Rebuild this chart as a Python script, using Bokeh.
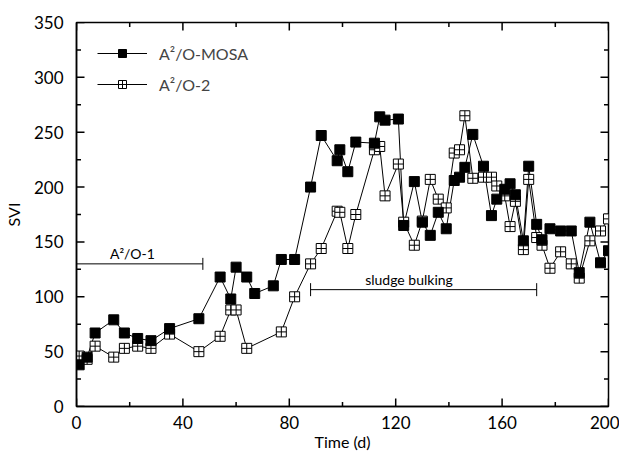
import numpy as np
from bokeh.plotting import figure
from bokeh.models import (SingleIntervalTicker, Range1d, Legend, LegendItem,
                          Arrow, TeeHead, Label, ColumnDataSource)
from bokeh.embed import file_html
from bokeh.resources import INLINE

# ---- data ----
days_mosa = [1, 4, 7, 14, 18, 23, 28, 35, 46, 54, 58, 60, 64, 67, 74, 77, 82, 88, 92, 98,
             99, 102, 105, 112, 114, 116, 121, 123, 127, 130, 133, 136, 139, 142, 144, 146, 149, 153, 156, 158,
             161, 163, 165, 168, 170, 173, 175, 178, 182, 186, 189, 193, 197, 200]
svi_mosa = [38, 45, 67, 79, 67, 62, 60, 71, 80, 118, 98, 127, 118, 103, 110, 134, 134, 200, 247, 224,
            234, 214, 241, 240, 264, 261, 262, 165, 205, 168, 156, 177, 162, 206, 209, 218, 248, 219, 174, 189,
            198, 203, 193, 151, 219, 166, 152, 162, 160, 160, 122, 168, 131, 142]

days_a2o2 = [1, 4, 7, 14, 18, 23, 28, 35, 46, 54, 58, 60, 64, 77, 82, 88, 92, 98, 99, 102,
             105, 112, 114, 116, 121, 123, 127, 130, 133, 136, 139, 142, 144, 146, 149, 153, 156, 158, 161, 163,
             165, 168, 170, 173, 175, 178, 182, 186, 189, 193, 197, 200]
svi_a2o2 = [46, 43, 55, 45, 53, 55, 53, 66, 50, 64, 88, 88, 53, 68, 100, 130, 144, 178, 177, 144,
            175, 234, 237, 192, 221, 168, 147, 169, 207, 189, 181, 231, 234, 265, 208, 209, 209, 201, 192, 164,
            187, 143, 207, 154, 147, 126, 141, 130, 117, 151, 160, 171]

label_mosa = "A\u00b2/O-MOSA"
label_a2o2 = "A\u00b2/O-2"

phase1_days = [0, 47.5]
phase1_level = 130
phase1_text = "A\u00b2/O-1"
phase1_text_pos = (21, 139)

bulking_days = [88, 173]
bulking_level = 106.5
bulking_text = "sludge bulking"
bulking_text_pos = (125, 116)

x_min, x_max, x_step = 0, 200, 40
y_min, y_max, y_step = 0, 350, 50

FONT = "Lato"

p = figure(width=619, height=454, output_backend="svg", toolbar_location=None,
           x_range=Range1d(x_min, x_max), y_range=Range1d(y_min, y_max),
           min_border_left=75, min_border_right=11, min_border_top=22, min_border_bottom=48,
           x_axis_label="Time (d)", y_axis_label="SVI")
p.grid.visible = False
p.outline_line_color = "black"
p.outline_line_width = 1.5
p.background_fill_color = "white"
p.border_fill_color = "white"

p.xaxis.ticker = SingleIntervalTicker(interval=x_step, num_minor_ticks=2)
p.yaxis.ticker = SingleIntervalTicker(interval=y_step, num_minor_ticks=2)

for ax in (p.xaxis[0], p.yaxis[0]):
    ax.axis_line_color = "black"
    ax.axis_line_width = 1.5
    ax.major_tick_in = 0
    ax.major_tick_out = 0
    ax.minor_tick_in = 0
    ax.minor_tick_out = 0
    ax.major_tick_line_color = None
    ax.minor_tick_line_color = None
    ax.major_label_text_font = FONT
    ax.major_label_text_font_size = "17px"
    ax.major_label_text_color = "black"
    ax.axis_label_text_font = FONT
    ax.axis_label_text_font_size = "16px"
    ax.axis_label_text_font_style = "normal"
    ax.axis_label_text_color = "black"
p.xaxis.major_label_standoff = 9
p.yaxis.major_label_standoff = 13
p.xaxis.axis_label_standoff = 0
p.yaxis.axis_label_standoff = 8

# inward ticks on all four sides (dash markers centred on the frame edge, clipped to the frame)
x_major = np.arange(x_min, x_max + 1, x_step)
x_minor = np.arange(x_min + x_step / 2, x_max, x_step)
y_major = np.arange(y_min, y_max + 1, y_step)
y_minor = np.arange(y_min + y_step / 2, y_max, y_step)
for xs, sz in ((x_major, 16), (x_minor, 9)):
    for edge in (y_min, y_max):
        p.scatter(xs, np.full(len(xs), edge), marker="dash", size=sz, angle=np.pi / 2,
                  line_color="black", line_width=1.5)
for ys, sz in ((y_major, 16), (y_minor, 9)):
    for edge in (x_min, x_max):
        p.scatter(np.full(len(ys), edge), ys, marker="dash", size=sz,
                  line_color="black", line_width=1.5)

src1 = ColumnDataSource(dict(x=days_mosa, y=svi_mosa))
src2 = ColumnDataSource(dict(x=days_a2o2, y=svi_a2o2))

l2 = p.line("x", "y", source=src2, line_color="black", line_width=1)
l1 = p.line("x", "y", source=src1, line_color="black", line_width=1)
s2 = p.scatter("x", "y", source=src2, marker="square_cross", size=10,
               fill_color="white", line_color="black", line_width=1)
s1 = p.scatter("x", "y", source=src1, marker="square", size=10,
               fill_color="black", line_color="black")

legend = Legend(items=[LegendItem(label=label_mosa, renderers=[l1, s1]),
                       LegendItem(label=label_a2o2, renderers=[l2, s2])],
                location="top_left", glyph_width=50, glyph_height=20, label_height=20,
                spacing=11, padding=0, margin=21, label_standoff=12,
                label_text_font=FONT, label_text_font_size="16px",
                border_line_color=None, background_fill_alpha=0)
p.add_layout(legend)

# phase annotations
p.add_layout(Arrow(x_start=phase1_days[0], y_start=phase1_level,
                   x_end=phase1_days[1], y_end=phase1_level,
                   line_color="black", line_width=1, start=None,
                   end=TeeHead(size=12, line_color="black", line_width=1)))
p.add_layout(Arrow(x_start=bulking_days[0], y_start=bulking_level,
                   x_end=bulking_days[1], y_end=bulking_level,
                   line_color="black", line_width=1,
                   start=TeeHead(size=13, line_color="black", line_width=1),
                   end=TeeHead(size=13, line_color="black", line_width=1)))
p.add_layout(Label(x=phase1_text_pos[0], y=phase1_text_pos[1], text=phase1_text,
                   text_align="center", text_baseline="alphabetic",
                   text_font=FONT, text_font_size="14px", text_color="black"))
p.add_layout(Label(x=bulking_text_pos[0], y=bulking_text_pos[1], text=bulking_text,
                   text_align="center", text_baseline="alphabetic",
                   text_font=FONT, text_font_size="14px", text_color="black"))

open("out.html", "w").write(file_html(p, INLINE))
